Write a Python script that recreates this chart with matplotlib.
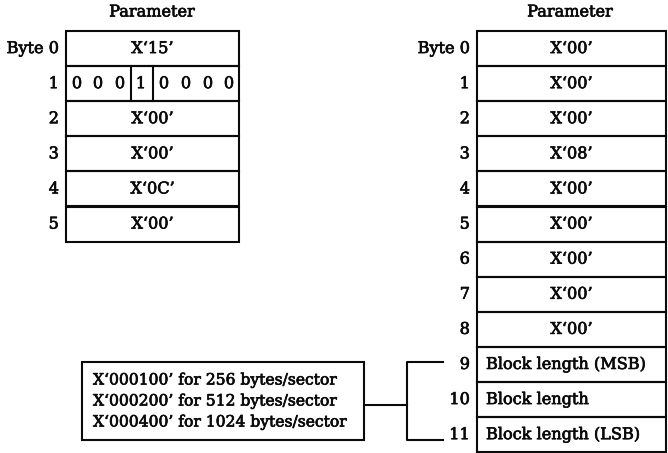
import matplotlib
matplotlib.use("Agg")
import matplotlib.pyplot as plt
import matplotlib.patheffects as pe
from matplotlib.patches import Rectangle

# ---- data ----
title = "Parameter"
left_byte_labels = ["Byte 0", "1", "2", "3", "4", "5"]
left_values = ["X\u201815\u2019", None, "X\u201800\u2019", "X\u201800\u2019", "X\u20180C\u2019", "X\u201800\u2019"]
left_bits = ["0", "0", "0", "1", "0", "0", "0", "0"]
right_byte_labels = ["Byte 0", "1", "2", "3", "4", "5", "6", "7", "8", "9", "10", "11"]
right_values = ["X\u201800\u2019", "X\u201800\u2019", "X\u201800\u2019", "X\u201808\u2019",
                "X\u201800\u2019", "X\u201800\u2019", "X\u201800\u2019", "X\u201800\u2019",
                "X\u201800\u2019",
                "Block length (MSB)", "Block length", "Block length (LSB)"]
note_lines = ["X\u2018000100\u2019 for 256 bytes/sector",
              "X\u2018000200\u2019 for 512 bytes/sector",
              "X\u2018000400\u2019 for 1024 bytes/sector"]

W, H = 668, 453
fig = plt.figure(figsize=(W / 100, H / 100), dpi=100)
ax = fig.add_axes([0, 0, 1, 1])
ax.set_xlim(0, W)
ax.set_ylim(H, 0)
ax.axis("off")

FONT = "DejaVu Serif"
FS = 11.6
FS_NOTE = 11.2
LW = 1.5
col = "#0a0a0a"
heavy = [pe.withStroke(linewidth=0.5, foreground=col)]

def txt(x, y, s, ha="center", fs=FS):
    ax.text(x, y, s, ha=ha, va="center", family=FONT, fontsize=fs, color=col,
            path_effects=heavy)

top = 31
rh = 35.1

def table(x0, x1, labels, values, title_x):
    txt(title_x, 12, title)
    for i in range(len(labels)):
        y = top + i * rh
        ax.add_patch(Rectangle((x0, y), x1 - x0, rh, fill=False, lw=LW, ec=col))
        txt(x0 - 7, y + rh / 2, labels[i], ha="right")
        v = values[i]
        if v is None:
            continue
        if v.startswith("Block"):
            txt(x0 + 9, y + rh / 2, v, ha="left")
        else:
            txt((x0 + x1) / 2, y + rh / 2, v)

# left table
lx0, lx1 = 66, 239
table(lx0, lx1, left_byte_labels, left_values, 152)
# bits row
yb = top + rh
bit_x = [77, 98, 120, 141, 164, 186, 208, 229]
for bx, b in zip(bit_x, left_bits):
    txt(bx, yb + rh / 2, b)
for vx in (131, 153):
    ax.plot([vx, vx], [yb, yb + rh], color=col, lw=LW)

# right table
rx0, rx1 = 477, 666
table(rx0, rx1, right_byte_labels, right_values, 570)

# note box
bx0, bx1, by0, by1 = 82, 364, 362, 440
ax.add_patch(Rectangle((bx0, by0), bx1 - bx0, by1 - by0, fill=False, lw=LW, ec=col))
for i, line in enumerate(note_lines):
    txt(bx0 + 11, 380 + i * 21, line, ha="left", fs=FS_NOTE)

# connector
ax.plot([bx1, 407], [405, 405], color=col, lw=LW)
ax.plot([443, 407, 407, 443], [362, 362, 440, 440], color=col, lw=LW)

fig.savefig("out.png", dpi=100)
